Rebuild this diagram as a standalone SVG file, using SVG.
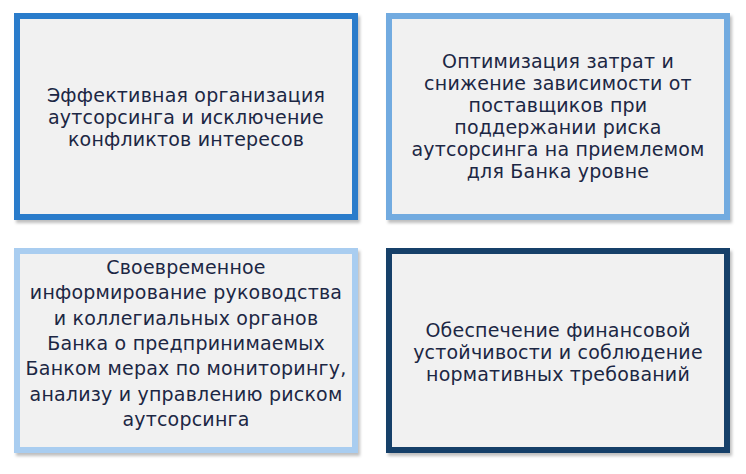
<svg xmlns="http://www.w3.org/2000/svg" width="746" height="474" viewBox="0 0 746 474">
<style>
.box{fill:#f1f1f1;stroke-width:6}
.t{font-family:"DejaVu Sans",Verdana,sans-serif;font-size:19px;letter-spacing:0.2px;fill:#1c2744;text-anchor:middle}
</style>
<defs>
<filter id="sh" x="-5%" y="-5%" width="112%" height="115%">
<feDropShadow dx="2" dy="3" stdDeviation="1.5" flood-color="#000" flood-opacity="0.25"/>
</filter>
</defs>
<rect width="746" height="474" fill="#fff"/>
<g id="node1">
<rect class="box" x="17" y="16" width="338" height="201" stroke="#2b7bcb" filter="url(#sh)"/>
<text class="t"><tspan x="186" y="102">Эффективная организация</tspan><tspan x="186" y="124">аутсорсинга и исключение</tspan><tspan x="186" y="146">конфликтов интересов</tspan></text>
</g>
<g id="node2">
<rect class="box" x="389" y="16" width="338" height="201" stroke="#72abe0" filter="url(#sh)"/>
<text class="t"><tspan x="558" y="68">Оптимизация затрат и</tspan><tspan x="558" y="90">снижение зависимости от</tspan><tspan x="558" y="112">поставщиков при</tspan><tspan x="558" y="134">поддержании риска</tspan><tspan x="558" y="156">аутсорсинга на приемлемом</tspan><tspan x="558" y="178">для Банка уровне</tspan></text>
</g>
<g id="node3">
<rect class="box" x="17" y="251" width="338" height="199" stroke="#a9cdf0" filter="url(#sh)"/>
<text class="t"><tspan x="186" y="274">Своевременное</tspan><tspan x="186" y="299">информирование руководства</tspan><tspan x="186" y="325">и коллегиальных органов</tspan><tspan x="186" y="350">Банка о предпринимаемых</tspan><tspan x="186" y="375">Банком мерах по мониторингу,</tspan><tspan x="186" y="401">анализу и управлению риском</tspan><tspan x="186" y="426">аутсорсинга</tspan></text>
</g>
<g id="node4">
<rect class="box" x="389" y="251" width="338" height="199" stroke="#173f69" filter="url(#sh)"/>
<text class="t"><tspan x="558" y="337">Обеспечение финансовой</tspan><tspan x="558" y="359">устойчивости и соблюдение</tspan><tspan x="558" y="381">нормативных требований</tspan></text>
</g>
<g id="connectors"/>
</svg>
